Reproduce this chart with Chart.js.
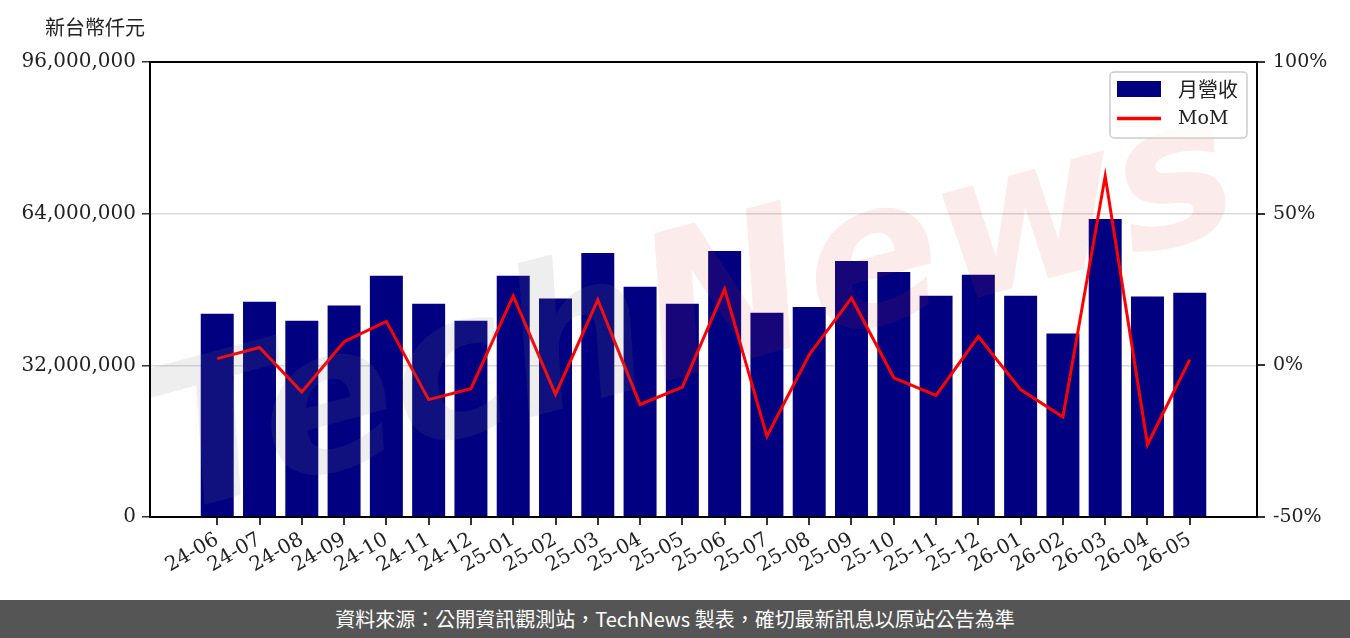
<!DOCTYPE html>
<html lang="zh-Hant">
<head>
<meta charset="UTF-8">
<title>月營收與 MoM</title>
<script src="https://cdn.jsdelivr.net/npm/chart.js"></script>
<style>
  html, body { margin: 0; padding: 0; background: #fff; }
  #wrap { width: 1350px; height: 638px; position: relative; }
  canvas { display: block; }
  .footer {
    height: 38px; background: #555555; color: #fff;
    font: 20px "Noto Sans CJK TC", "Noto Sans", sans-serif;
    text-align: center; line-height: 38px;
  }
</style>
</head>
<body>
<div id="wrap">
  <canvas id="revChart" width="1350" height="600"></canvas>
  <div class="footer">資料來源：公開資訊觀測站，TechNews 製表，確切最新訊息以原站公告為準</div>
</div>
<script>
// data
const months = ['24-06','24-07','24-08','24-09','24-10','24-11','24-12','25-01','25-02','25-03','25-04','25-05',
                '25-06','25-07','25-08','25-09','25-10','25-11','25-12','26-01','26-02','26-03','26-04','26-05'];
const revenue = [42.9, 45.4, 41.4, 44.6, 50.9, 45.0, 41.4, 50.9, 46.1, 55.7, 48.6, 45.0,
                 56.1, 43.1, 44.3, 54.0, 51.7, 46.7, 51.1, 46.7, 38.7, 62.9, 46.5, 47.3].map(v => v * 1e6);
const mom = [2.2, 5.9, -8.8, 7.8, 14.5, -11.3, -7.7, 22.9, -9.6, 21.6, -12.9, -7.2,
             25.1, -23.4, 3.5, 22.2, -4.1, -9.9, 9.5, -8.0, -17.0, 62.4, -26.1, 1.9];
const leftTicks = [0, 32000000, 64000000, 96000000];
const rightTicks = [-50, 0, 50, 100];

const serif = "'DejaVu Serif', 'Liberation Serif', serif";

const frame = {
  id: 'frame',
  afterDatasetsDraw(chart) {
    // faint TechNews watermark
    const { ctx, chartArea: a } = chart;
    ctx.save();
    ctx.beginPath();
    ctx.rect(a.left, a.top, a.right - a.left, a.bottom - a.top);
    ctx.clip();
    ctx.translate(690, 300);
    ctx.rotate(-15 * Math.PI / 180);
    ctx.font = "italic bold 200px 'DejaVu Sans', sans-serif";
    ctx.textBaseline = 'middle';
    ctx.textAlign = 'left';
    const wTech = ctx.measureText('Tech').width;
    const wNews = ctx.measureText('News').width;
    const x0 = -(wTech + wNews) / 2;
    ctx.fillStyle = 'rgba(120,120,120,0.13)';
    ctx.fillText('Tech', x0, 20);
    ctx.fillStyle = 'rgba(220,60,60,0.10)';
    ctx.fillText('News', x0 + wTech, 20);
    ctx.restore();
  },
  afterDraw(chart) {
    const { ctx, chartArea: a } = chart;
    ctx.save();
    // box around plot
    ctx.strokeStyle = '#000';
    ctx.lineWidth = 2;
    ctx.strokeRect(a.left, a.top, a.right - a.left, a.bottom - a.top);

    // unit label
    ctx.fillStyle = '#222';
    ctx.font = "20px 'Noto Sans CJK TC', sans-serif";
    ctx.textAlign = 'center';
    ctx.textBaseline = 'middle';
    ctx.fillText('新台幣仟元', 95, 27);

    // legend
    const lx = 1110, ly = 72, lw = 137, lh = 66;
    ctx.fillStyle = 'rgba(255,255,255,0.8)';
    ctx.strokeStyle = '#cccccc';
    ctx.lineWidth = 1.5;
    ctx.beginPath();
    ctx.roundRect(lx, ly, lw, lh, 4);
    ctx.fill();
    ctx.stroke();
    const ds = chart.data.datasets;
    ctx.fillStyle = ds[0].backgroundColor;
    ctx.fillRect(1117, 81, 44, 16);
    ctx.strokeStyle = ds[1].borderColor;
    ctx.lineWidth = 3.5;
    ctx.beginPath();
    ctx.moveTo(1117, 118.5);
    ctx.lineTo(1161, 118.5);
    ctx.stroke();
    ctx.fillStyle = '#222';
    ctx.textAlign = 'left';
    ctx.font = "20px 'Noto Sans CJK TC', sans-serif";
    ctx.fillText(ds[0].label, 1178, 89);
    ctx.font = "19px " + serif;
    ctx.fillText(ds[1].label, 1178, 119);
    ctx.restore();
  }
};

new Chart(document.getElementById('revChart'), {
  type: 'bar',
  data: {
    datasets: [
      {
        type: 'bar',
        label: '月營收',
        data: revenue.map((v, i) => ({ x: i, y: v })),
        backgroundColor: '#000080',
        yAxisID: 'y',
        barPercentage: 0.78,
        categoryPercentage: 1,
        order: 2
      },
      {
        type: 'line',
        label: 'MoM',
        data: mom.map((v, i) => ({ x: i, y: v })),
        borderColor: '#ff0000',
        backgroundColor: '#ff0000',
        borderWidth: 3,
        pointRadius: 0,
        tension: 0,
        yAxisID: 'y1',
        order: 1
      }
    ]
  },
  plugins: [frame],
  options: {
    responsive: false,
    animation: false,
    layout: { padding: { top: 62, left: 0, right: 0, bottom: 0 } },
    plugins: { legend: { display: false }, tooltip: { enabled: false } },
    scales: {
      x: {
        type: 'linear',
        offset: false,
        min: -1.59,
        max: 24.59,
        afterBuildTicks: s => { s.ticks = months.map((m, i) => ({ value: i })); },
        afterFit: s => { s.height = 83; },
        grid: { offset: false, drawOnChartArea: false, tickLength: 8, tickColor: '#333', lineWidth: 2 },
        border: { display: false },
        ticks: {
          autoSkip: false, minRotation: 30, maxRotation: 30, padding: 3,
          color: '#222', font: { family: serif, size: 20 },
          callback: v => months[v]
        }
      },
      y: {
        position: 'left',
        min: 0, max: 96000000,
        afterBuildTicks: s => { s.ticks = leftTicks.map(v => ({ value: v })); },
        afterFit: s => { s.width = 150; },
        grid: {
          color: c => (c.tick && (c.tick.value === 32000000 || c.tick.value === 64000000)) ? '#d9d9d9' : 'rgba(0,0,0,0)',
          lineWidth: 1.5, tickLength: 8, tickColor: '#333'
        },
        border: { display: false },
        ticks: {
          padding: 6, color: '#222', font: { family: serif, size: 20 },
          callback: v => v.toLocaleString('en-US')
        }
      },
      y1: {
        position: 'right',
        min: -50, max: 100,
        afterBuildTicks: s => { s.ticks = rightTicks.map(v => ({ value: v })); },
        afterFit: s => { s.width = 93; },
        grid: { drawOnChartArea: false, tickLength: 8, tickColor: '#333', lineWidth: 2 },
        border: { display: false },
        ticks: {
          padding: 8, color: '#222', font: { family: serif, size: 19 },
          callback: v => v + '%'
        }
      }
    }
  }
});
</script>
</body>
</html>
